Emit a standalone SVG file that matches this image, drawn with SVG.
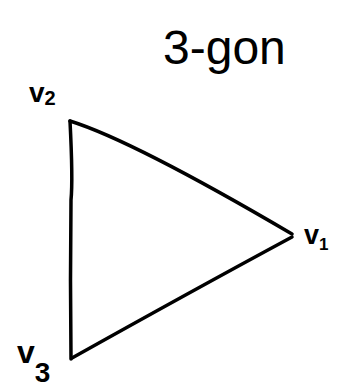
<svg xmlns="http://www.w3.org/2000/svg" width="343" height="391" viewBox="0 0 343 391">
<style>
.edge{fill:none;stroke:#000;stroke-width:3.5;stroke-linecap:round;stroke-linejoin:round}
.lbl{font-family:"Liberation Sans","DejaVu Sans",sans-serif;fill:#000;font-weight:bold}
.ttl{font-family:"Liberation Sans","DejaVu Sans",sans-serif;fill:#000;font-size:48px}
</style>
<rect width="343" height="391" fill="#fff"/>
<g id="title"><text class="ttl" x="163" y="64">3-gon</text></g>
<g id="connectors">
<path class="edge" d="M70,121 C115,135 200,180 292,234"/>
<path class="edge" d="M292,237 Q190,292 72,358"/>
<path class="edge" d="M70,121 Q73,180 71,200 Q70,280 71,359"/>
</g>
<g id="v1"><text class="lbl" x="304" y="244" font-size="27">v<tspan font-size="17" dy="6">1</tspan></text></g>
<g id="v2"><text class="lbl" x="29" y="102" font-size="28">v<tspan font-size="20" dy="3">2</tspan></text></g>
<g id="v3"><text class="lbl" x="17" y="363" font-size="32">v<tspan font-size="28" dy="19">3</tspan></text></g>
</svg>
